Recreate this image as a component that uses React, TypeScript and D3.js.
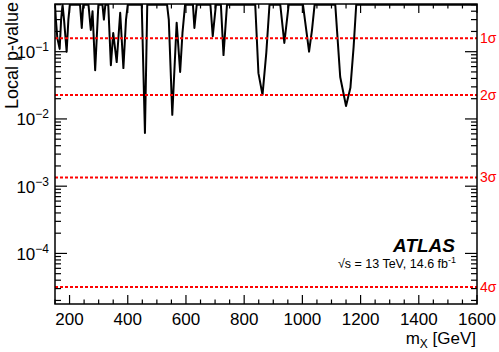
import { useEffect, useRef } from "react";
import * as d3 from "d3";

// scanned mass points [GeV] and local p-values
const masses = [
  150, 153, 158, 166, 171, 176, 181, 190, 196, 201,
  236, 242, 247, 265, 273, 279, 288, 299, 313, 318, 323,
  333, 342, 350, 362, 374, 385, 394, 400,
  448, 459, 467,
  535, 541, 553, 568, 580, 588, 597,
  624, 629, 637, 684, 692, 703, 720, 729, 741,
  838, 849, 863, 876, 887, 924, 938, 953,
  1002, 1010, 1023, 1033, 1042,
  1113, 1130, 1150, 1165, 1176, 1185, 1600,
];
const pValues = [
  0.5, 0.3, 0.16, 0.11, 0.3, 0.5, 0.3, 0.1, 0.3, 0.5,
  0.5, 0.225, 0.5, 0.5, 0.21, 0.4, 0.053, 0.5, 0.5, 0.3, 0.5,
  0.5, 0.063, 0.19, 0.07, 0.38, 0.057, 0.3, 0.5,
  0.5, 0.0062, 0.5,
  0.5, 0.3, 0.0115, 0.27, 0.05, 0.19, 0.5,
  0.5, 0.225, 0.5, 0.5, 0.17, 0.5, 0.5, 0.089, 0.5,
  0.5, 0.048, 0.0228, 0.096, 0.5, 0.5, 0.135, 0.5,
  0.5, 0.27, 0.1, 0.21, 0.5,
  0.5, 0.042, 0.0156, 0.029, 0.117, 0.5, 0.5,
];

const sigmaLabels = ["1σ", "2σ", "3σ", "4σ"];
const sigmaP = [0.158655, 0.02275, 0.0013499, 3.167e-5];

const xTicks = [200, 400, 600, 800, 1000, 1200, 1400, 1600];
const yExponents = [-1, -2, -3, -4];

const font = "'Liberation Sans', Arial, Helvetica, sans-serif";

function Frame({ x, y }) {
  const ref = useRef(null);

  useEffect(() => {
    if (!ref.current) return;
    const g = d3.select(ref.current);
    g.selectAll("*").remove();
    const [x0, x1] = x.range();
    const [y0, y1] = y.range();

    // minor ticks every 50 GeV, major every 200
    const xs = d3.range(150, 1601, 50).map((v) => ({ v, major: v % 200 === 0 }));
    xs.forEach(({ v, major }) => {
      const len = major ? 9 : 4.5;
      g.append("line").attr("x1", x(v)).attr("x2", x(v))
        .attr("y1", y0).attr("y2", y0 - len);
      g.append("line").attr("x1", x(v)).attr("x2", x(v))
        .attr("y1", y1).attr("y2", y1 + len);
    });

    const [lo, hi] = y.domain();
    const yt = [];
    for (let e = -6; e <= 0; e++) {
      for (let k = 1; k < 10; k++) {
        const v = k * Math.pow(10, e);
        if (v >= lo && v <= hi) yt.push({ v, major: k === 1 });
      }
    }
    yt.forEach(({ v, major }) => {
      const len = major ? 12 : 6;
      g.append("line").attr("x1", x0).attr("x2", x0 + len)
        .attr("y1", y(v)).attr("y2", y(v));
      g.append("line").attr("x1", x1).attr("x2", x1 - len)
        .attr("y1", y(v)).attr("y2", y(v));
    });
    g.selectAll("line").attr("stroke", "#000").attr("stroke-width", 1.2);

    g.append("rect")
      .attr("x", x0).attr("y", y1)
      .attr("width", x1 - x0).attr("height", y0 - y1)
      .attr("fill", "none").attr("stroke", "#000").attr("stroke-width", 1.5);
  }, [x, y]);

  return <g ref={ref} />;
}

export default function App() {
  const width = 499;
  const height = 352;
  const left = 55, right = 477, top = 4, bottom = 304;

  const x = d3.scaleLinear().domain([150, 1600]).range([left, right]);
  const y = d3.scaleLog().domain([1.77e-5, 0.512]).range([bottom, top]);

  const pts = masses.map((m, i) => [m, pValues[i]]);
  const line = d3.line()
    .x((d) => x(d[0]))
    .y((d) => y(d[1]));

  return (
    <svg
      width={width}
      height={height}
      style={{ position: "absolute", left: 0, top: 0, background: "#fff" }}
      fontFamily={font}
    >
      <defs>
        <clipPath id="plot-area">
          <rect x={left} y={top} width={right - left} height={bottom - top} />
        </clipPath>
      </defs>

      <g clipPath="url(#plot-area)">
        <path d={line(pts)} fill="none" stroke="#000" strokeWidth={2} strokeLinejoin="round" />
        {sigmaP.map((p) => (
          <line
            key={p}
            x1={left}
            x2={right}
            y1={y(p)}
            y2={y(p)}
            stroke="#ff0000"
            strokeWidth={2}
            strokeDasharray="3 2"
          />
        ))}
      </g>

      <Frame x={x} y={y} />

      {sigmaLabels.map((s, i) => (
        <text key={s} x={right + 3} y={y(sigmaP[i]) + 5} fontSize={14} fill="#ff0000">
          {s}
        </text>
      ))}

      {xTicks.map((t) => (
        <text key={t} x={x(t)} y={325} fontSize={17} textAnchor="middle">
          {t}
        </text>
      ))}

      {yExponents.map((e) => (
        <text key={e} x={49} y={y(Math.pow(10, e)) + 6.5} fontSize={17} textAnchor="end">
          10
          <tspan dy={-7} fontSize={12}>{"\u2212" + Math.abs(e)}</tspan>
        </text>
      ))}

      <text
        transform="translate(18, 2) rotate(-90)"
        fontSize={18}
        textAnchor="end"
      >
        Local p-value
      </text>

      <text x={476} y={344} fontSize={17} textAnchor="end">
        m<tspan dy={4} fontSize={12}>X</tspan>
        <tspan dy={-4}> [GeV]</tspan>
      </text>

      <text x={455} y={252} fontSize={19} fontWeight="bold" fontStyle="italic" textAnchor="end">
        ATLAS
      </text>
      <text x={456} y={268} fontSize={12.5} textAnchor="end">
        {"\u221As = 13 TeV, 14.6 fb"}
        <tspan dy={-5} fontSize={9}>-1</tspan>
      </text>
    </svg>
  );
}
